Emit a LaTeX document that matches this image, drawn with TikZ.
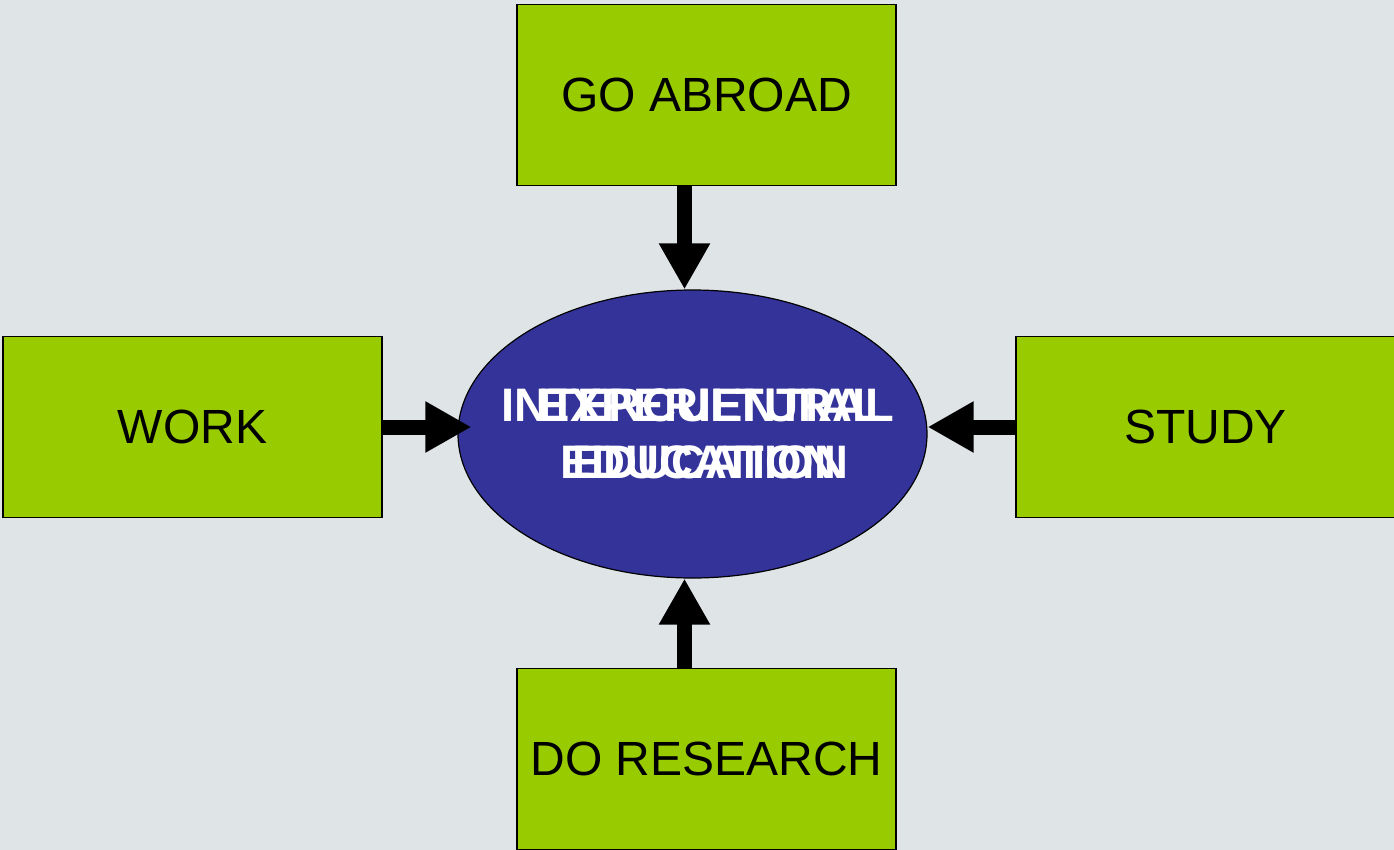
\documentclass[tikz,border=0pt]{standalone}
\usepackage{fontspec}
\setmainfont{Liberation Sans}
\usepackage{tikz}
\usetikzlibrary{arrows.meta,shapes}
\definecolor{backgr}{HTML}{DFE4E7}
\definecolor{boxgreen}{HTML}{99CC00}
\definecolor{ellblue}{HTML}{333399}

\begin{document}
\begin{tikzpicture}[
  task/.style={draw,line width=1.5bp,fill=boxgreen,rectangle,minimum width=379bp,minimum height=181bp,inner sep=0pt,font=\fontsize{48bp}{56bp}\selectfont},
  title/.style={text=white,align=center,inner sep=0pt,font=\fontsize{47bp}{57bp}\selectfont\bfseries},
  flow/.style={line width=15bp,-{Triangle[length=46bp,width=48bp]}}
]
\fill[backgr] (0bp,0bp) rectangle (1394bp,-850bp);
\useasboundingbox (0bp,0bp) rectangle (1394bp,-850bp);

\node (IE) at (692.5bp,-434bp)[draw,line width=1.2bp,ellipse,fill=ellblue,minimum width=469bp,minimum height=288bp,inner sep=0pt] {};
\node (GA) at (706.5bp,-95bp)[task] {GO ABROAD};
\node (WK) at (192.5bp,-427bp)[task] {WORK};
\node (ST) at (1205.5bp,-427bp)[task] {STUDY};
\node (DR) at (706.5bp,-759bp)[task] {DO RESEARCH};

% the two titles print on top of each other
\node (IE1) at (698bp,-434bp)[title] {INTERCULTURAL\\EDUCATION};
\node (IE2) at (710bp,-434bp)[title] {EXPERIENTIAL\\EDUCATION};

\draw [flow] ([xshift=-22bp]GA.south) to ([xshift=-22bp]GA.south |- IE.north);
\draw [flow] ([xshift=-22bp]DR.north) to ([xshift=-22bp]DR.north |- IE.south);
\draw [flow] (WK.east) to ([xshift=14bp]IE.west |- WK.east);
\draw [flow] (ST.west) to (IE.east |- ST.west);
\end{tikzpicture}
\end{document}
